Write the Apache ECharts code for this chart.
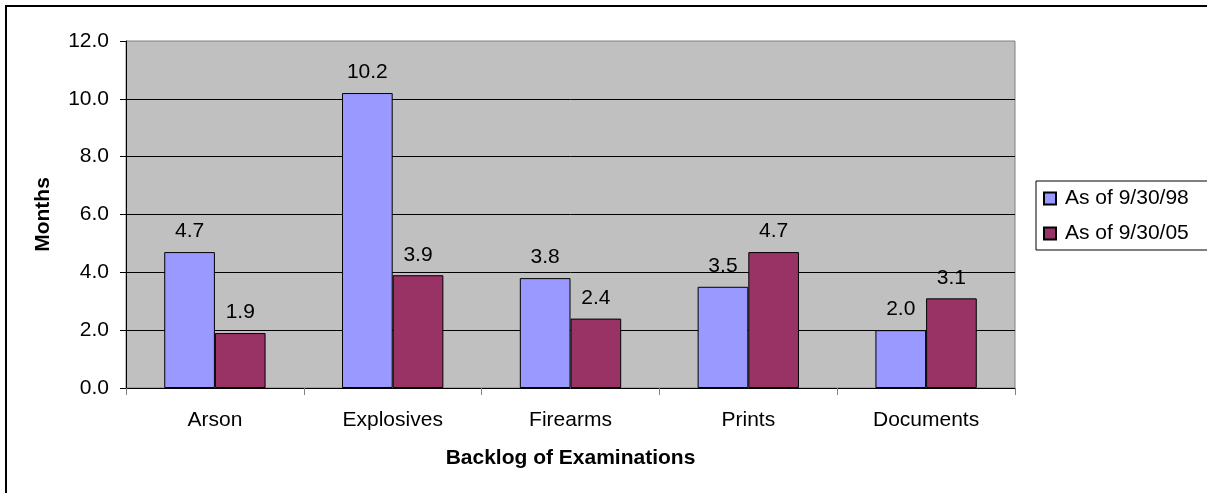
<!DOCTYPE html>
<html>
<head>
<meta charset="utf-8">
<script src="https://cdn.jsdelivr.net/npm/echarts@6/dist/echarts.min.js"></script>
<style>
html,body{margin:0;padding:0;background:#fff;}
#chart{width:1207px;height:493px;}
</style>
</head>
<body>
<div id="chart"></div>
<script>
var categories = ['Arson', 'Explosives', 'Firearms', 'Prints', 'Documents'];
var seriesNames = ['As of 9/30/98', 'As of 9/30/05'];
var values98 = [4.7, 10.2, 3.8, 3.5, 2.0];
var values05 = [1.9, 3.9, 2.4, 4.7, 3.1];
var yTicks = [0, 2, 4, 6, 8, 10, 12];

var FONT = '"Liberation Sans", Arial, sans-serif';
var FS = 21;

var chart = echarts.init(document.getElementById('chart'), null, {renderer: 'canvas'});

var option = {
  animation: false,
  backgroundColor: '#ffffff',
  textStyle: {fontFamily: FONT, color: '#000'},
  graphic: [{
    type: 'rect',
    shape: {x: 6, y: 6, width: 1260, height: 560},
    style: {fill: 'none', stroke: '#000', lineWidth: 2},
    silent: true,
    z: 100
  }],
  grid: {
    left: 126, top: 41, width: 889, height: 347,
    show: true,
    backgroundColor: '#C0C0C0',
    borderColor: '#808080',
    borderWidth: 1
  },
  legend: {
    orient: 'vertical',
    left: 1036,
    top: 181,
    padding: [7, 40, 6, 7],
    itemWidth: 12,
    itemHeight: 12,
    itemGap: 14,
    borderColor: '#000',
    borderWidth: 1,
    icon: 'rect',
    textStyle: {fontFamily: FONT, fontSize: FS, color: '#000', padding: [0, 0, 0, 4]},
    data: seriesNames
  },
  xAxis: {
    type: 'category',
    data: categories,
    name: 'Backlog of Examinations',
    nameLocation: 'middle',
    nameGap: 60,
    nameTextStyle: {fontFamily: FONT, fontSize: FS, fontWeight: 'bold', color: '#000'},
    axisLine: {show: true, lineStyle: {color: '#000', width: 1}},
    axisTick: {show: true, length: 7, lineStyle: {color: '#808080', width: 1}},
    axisLabel: {fontFamily: FONT, fontSize: FS, color: '#000', margin: 22},
    splitLine: {show: false}
  },
  yAxis: {
    type: 'value',
    min: yTicks[0],
    max: yTicks[yTicks.length - 1],
    interval: 2,
    name: 'Months',
    nameLocation: 'middle',
    nameGap: 72,
    nameTextStyle: {fontFamily: FONT, fontSize: FS, fontWeight: 'bold', color: '#000'},
    axisLine: {show: true, lineStyle: {color: '#000', width: 1}},
    axisTick: {show: true, length: 6, inside: false, lineStyle: {color: '#000', width: 1}},
    axisLabel: {fontFamily: FONT, fontSize: FS, color: '#000', margin: 17,
      formatter: function (v) { return v.toFixed(1); }},
    splitLine: {show: true, showMaxLine: false, showMinLine: false, lineStyle: {color: '#000', width: 1}}
  },
  series: [
    {
      name: seriesNames[0],
      type: 'bar',
      data: values98,
      barGap: '0%',
      barCategoryGap: '43%',
      itemStyle: {color: '#9999FF', borderColor: '#000', borderWidth: 1},
      label: {show: true, position: 'top', distance: 10, fontFamily: FONT, fontSize: FS, color: '#000',
        formatter: function (p) { return p.value.toFixed(1); }}
    },
    {
      name: seriesNames[1],
      type: 'bar',
      data: values05,
      barGap: '0%',
      barCategoryGap: '43%',
      itemStyle: {color: '#993366', borderColor: '#000', borderWidth: 1},
      label: {show: true, position: 'top', distance: 10, fontFamily: FONT, fontSize: FS, color: '#000',
        formatter: function (p) { return p.value.toFixed(1); }}
    }
  ]
};
chart.setOption(option);
</script>
</body>
</html>
